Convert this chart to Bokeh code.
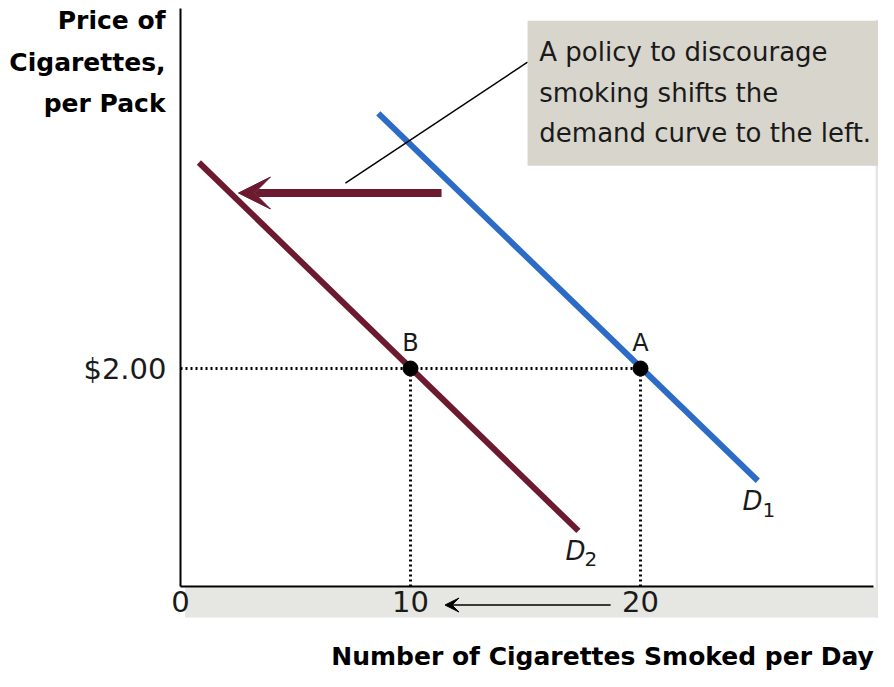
from bokeh.plotting import figure
from bokeh.models import Range1d, FixedTicker, Label, Arrow, VeeHead
from bokeh.embed import file_html
from bokeh.resources import INLINE
from bokeh.core.properties import value

# ---------------- data ----------------
x_ticks = [0, 10, 20]
y_ticks = [2.0]
y_tick_labels = ["$2.00"]

d1_qty = [8.6, 25.1]
d1_price = [4.34, 0.97]
d2_qty = [0.8, 17.3]
d2_price = [3.89, 0.51]

point_names = ["A", "B"]
point_qty = [20, 10]
point_price = [2.0, 2.0]

shift_from_qty = 11.35
shift_to_qty = 2.52
shift_price = 3.61

qty_change_from = 18.7
qty_change_to = 11.5

callout_lines = ["A policy to discourage", "smoking shifts the", "demand curve to the left."]
y_title_lines = ["Price of", "Cigarettes,", "per Pack"]
x_title = "Number of Cigarettes Smoked per Day"

BLUE = "#2c6cc6"
MAROON = "#6b1a30"
FONT = "DejaVu Sans"

W, H = 878, 671
# 23 px per cigarette, 109 px per dollar; origin at (180, 586) px
x0, y0, sx, sy = 180, 586, 23.0, 109.0
p = figure(width=W, height=H, output_backend="svg", toolbar_location=None,
           x_range=Range1d(-x0 / sx, (W - x0) / sx),
           y_range=Range1d((y0 - H) / sy, y0 / sy),
           min_border=0)
p.grid.visible = False
p.outline_line_color = None
p.background_fill_color = "white"
p.border_fill_color = "white"

for ax in (p.xaxis[0], p.yaxis[0]):
    ax.fixed_location = 0
    ax.axis_line_color = "black"
    ax.axis_line_width = 2
    ax.major_tick_line_color = None
    ax.minor_tick_line_color = None
    ax.major_tick_in = 0
    ax.major_tick_out = 0
    ax.major_label_text_font = FONT
    ax.major_label_text_font_size = "29px"
    ax.major_label_text_color = "#1a1a1a"

p.xaxis[0].ticker = FixedTicker(ticks=x_ticks)
p.xaxis[0].bounds = (0, 30.13)
p.xaxis[0].major_label_standoff = 4
p.yaxis[0].ticker = FixedTicker(ticks=y_ticks)
p.yaxis[0].bounds = (0, 5.3)
p.yaxis[0].major_label_overrides = {t: s for t, s in zip(y_ticks, y_tick_labels)}
p.yaxis[0].major_label_standoff = 14

# faint shaded bands under and to the right of the plot box
p.quad(left=[0.2, 30.22], right=[40, 40], bottom=[-0.284, -0.284], top=[-0.01, 5.2],
       fill_color="#e6e6e2", line_color=None, level="underlay")

# dotted guide lines
p.line([0, point_qty[0]], [point_price[0], point_price[0]], line_color="black",
       line_width=3, line_dash="2 3")
for q, pr in zip(point_qty, point_price):
    p.line([q, q], [0, pr], line_color="black", line_width=3, line_dash="2 3")

# demand curves
p.line(d1_qty, d1_price, line_color=BLUE, line_width=6)
p.line(d2_qty, d2_price, line_color=MAROON, line_width=6)

# shift arrow
p.add_layout(Arrow(x_start=shift_from_qty, y_start=shift_price, x_end=shift_to_qty, y_end=shift_price,
                   line_color=MAROON, line_width=8,
                   end=VeeHead(size=32, fill_color=MAROON, line_color=MAROON)))

# callout box and leader line
p.line([7.17, 15.09], [3.70, 4.81], line_color="black", line_width=1.5)
p.quad(left=[15.09], right=[30.61], bottom=[3.86], top=[5.19],
       fill_color="#d8d5cd", line_color=None)
p.text(x=[15.6] * 3, y=[4.90, 4.53, 4.16], text=callout_lines,
       text_font=value(FONT), text_font_size="26px", text_color="#1a1a1a",
       text_align="left", text_baseline="middle")

# equilibrium points
p.scatter(point_qty, point_price, size=15, fill_color="black", line_color="black")
p.text(x=point_qty, y=[2.23, 2.23], text=point_names, text_font=value(FONT),
       text_font_size="24px", text_color="#1a1a1a", text_align="center", text_baseline="middle")

# curve labels
p.text(x=[24.43, 16.74], y=[0.78, 0.33], text=["D", "D"], text_font=value(FONT),
       text_font_style="italic", text_font_size="26px", text_color="#1a1a1a",
       text_align="left", text_baseline="middle")
p.text(x=[25.3, 17.57], y=[0.70, 0.25], text=["1", "2"], text_font=value(FONT),
       text_font_size="20px", text_color="#1a1a1a", text_align="left", text_baseline="middle")

# quantity change arrow under the axis
p.add_layout(Arrow(x_start=qty_change_from, y_start=-0.17, x_end=qty_change_to, y_end=-0.17,
                   line_color="black", line_width=1.5,
                   end=VeeHead(size=14, fill_color="black", line_color="black")))

# axis titles
for txt, yy in zip(y_title_lines, [5.19, 4.81, 4.43]):
    p.add_layout(Label(x=-0.65, y=yy, text=txt, text_font=FONT, text_font_style="bold",
                       text_font_size="25px", text_color="black",
                       text_align="right", text_baseline="middle"))
p.add_layout(Label(x=18.35, y=-0.645, text=x_title, text_font=FONT, text_font_style="bold",
                   text_font_size="25px", text_color="black",
                   text_align="center", text_baseline="middle"))

open("out.html", "w").write(file_html(p, INLINE))
